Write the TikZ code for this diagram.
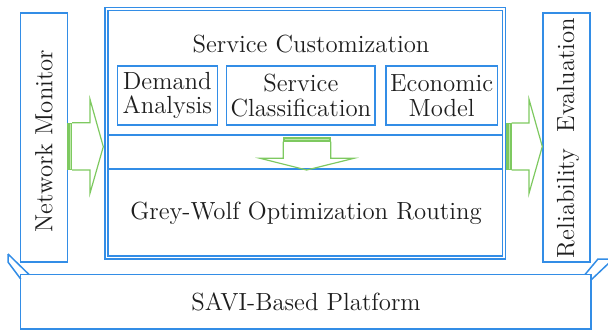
\documentclass[tikz,border=0pt]{standalone}
\usetikzlibrary{fit}
\definecolor{bl}{RGB}{51,141,230}
\definecolor{gr}{RGB}{126,201,96}
\definecolor{grl}{RGB}{190,232,170}
\definecolor{txt}{RGB}{30,30,30}
\begin{document}
\begin{tikzpicture}[x=0.5pt,y=-0.5pt,
  font=\fontsize{12.4}{12.2}\selectfont,
  box/.style={draw=bl, line width=0.75pt, inner sep=0pt},
  dbox/.style={draw=bl, double=white, line width=0.75pt, double distance=0.85pt, inner sep=0pt},
  lbl/.style={text=txt, inner sep=0pt, align=center},
  garrow/.style={draw=gr, line width=0.6pt, line join=miter},
  gband/.style={fill=gr, draw=none}]
\useasboundingbox (0,0) rectangle (608,331);

% side boxes
\node[box, fit={(20.7,13)(67.7,262)}] (nm) {};
\node[lbl, rotate=90] (nmt) at (44,141) {Network Monitor};
\node[box, fit={(543,13)(590,262)}] (re) {};
\node[lbl, rotate=90] (ret) at (568,138) {Reliability\ \ Evaluation};

% main double box
\node[dbox, fit={(106.6,9)(504.1,257.6)}] (main) {};
\node[box, fit={(108,10.6)(502.7,135)}] (sc) {};
\node[lbl] (sct) at (311,44) {Service Customization};
\node[box, fit={(117.3,66)(217.3,125)}] (da) {};
\node[lbl] (dat) at (da.center) {Demand\\Analysis};
\node[box, fit={(226.7,66)(375,125)}] (scl) {};
\node[lbl] (sclt) at (scl.center) {Service\\Classification};
\node[box, fit={(386,66)(497.3,125)}] (em) {};
\node[lbl] (emt) at (em.center) {Economic\\Model};
\node[box, fit={(108,169)(502.7,256)}] (gw) {};
\node[lbl] (gwt) at (306,213) {Grey-Wolf Optimization Routing};

% platform
\node[box, fit={(20.7,274.5)(591,329)}] (pl) {};
\node[lbl] (plt) at (306,302) {SAVI-Based Platform};
\draw[bl, line width=0.75pt] (8,254) -- (29,274.5);
\draw[bl, line width=0.75pt] (8,254) -- (8,262) -- (20.7,279);
\draw[bl, line width=0.75pt] (585,274.5) -- (598,259) -- (610,259);
\draw[bl, line width=0.75pt] (591,280) -- (610,262);

% left arrow
\draw[garrow] (72,122.7) -- (90,122.7) -- (90,99.3) -- (103.3,146.7) -- (90,193.3) -- (90,170) -- (72,170);
\fill[gband] (66.7,122.7) rectangle (72.3,170);
\draw[grl, line width=0.4pt] (70.3,124) -- (70.3,168.7);

% right arrow
\draw[garrow] (511.7,123) -- (529,123) -- (529,99.3) -- (542.3,146.5) -- (529,193.3) -- (529,170) -- (511.7,170);
\fill[gband] (506,123) rectangle (511.7,170);
\draw[grl, line width=0.4pt] (509.5,124.3) -- (509.5,168.7);

% down arrow
\draw[garrow] (283.3,141.7) -- (283.3,158.3) -- (260,158.3) -- (306.7,170) -- (354,158.3) -- (330.7,158.3) -- (330.7,141.7);
\fill[gband] (283.3,136.7) rectangle (330.7,141.7);
\draw[grl, line width=0.4pt] (284.6,139.6) -- (329.4,139.6);
\end{tikzpicture}
\end{document}
